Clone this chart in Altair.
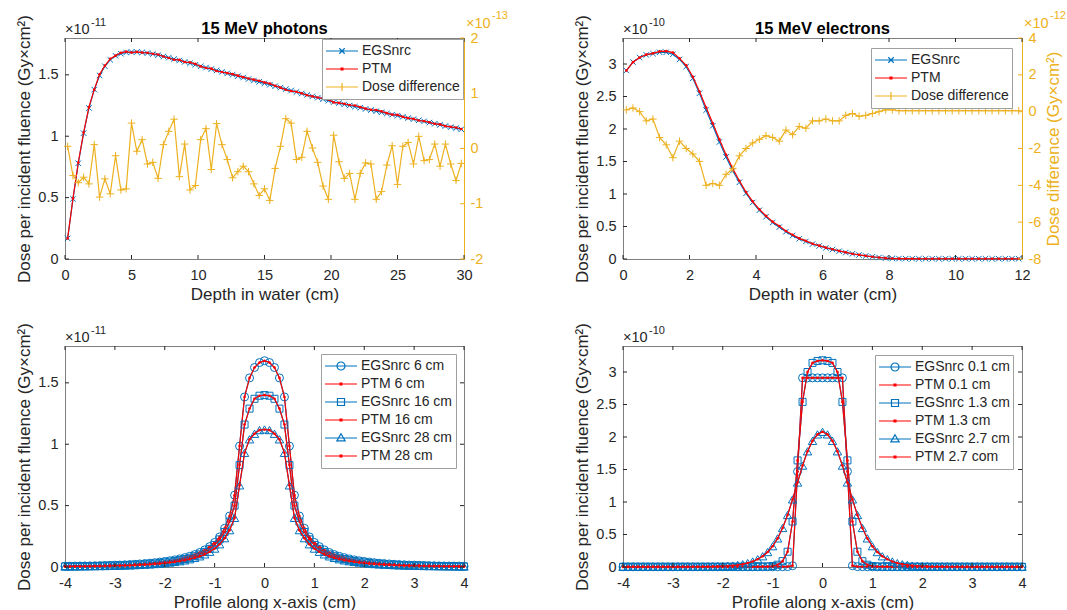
import altair as alt
import numpy as np
import pandas as pd

FONT = "Liberation Sans"
BLUE = "#0072BD"
RED = "#FF0000"
ORANGE = "#EDB120"
INK = "#262626"
BOX = "#7f7f7f"
LEGBOX = "#a0a0a0"

W = 399
H = 221

# ---------------- texts ----------------
panel_titles = ["15 MeV photons", "15 MeV electrons"]
x_titles = ["Depth in water (cm)", "Profile along x-axis (cm)"]
y_title = "Dose per incident fluence (Gy×cm²)"
y2_title = "Dose difference (Gy×cm²)"
depth_legend = ["EGSnrc", "PTM", "Dose difference"]
photon_profile_legend = ["EGSnrc 6 cm", "PTM 6 cm", "EGSnrc 16 cm", "PTM 16 cm", "EGSnrc 28 cm", "PTM 28 cm"]
electron_profile_legend = ["EGSnrc 0.1 cm", "PTM 0.1 cm", "EGSnrc 1.3 cm", "PTM 1.3 cm", "EGSnrc 2.7 cm", "PTM 2.7 com"]
exp_base = "×10"
exp_p1_left, exp_p1_right = "-11", "-13"
exp_p2_left, exp_p2_right = "-10", "-12"
exp_p3, exp_p4 = "-11", "-10"

# ---------------- tick values ----------------
photon_x_ticks = [0, 5, 10, 15, 20, 25, 30]
electron_x_ticks = [0, 2, 4, 6, 8, 10, 12]
profile_x_ticks = [-4, -3, -2, -1, 0, 1, 2, 3, 4]
photon_y_ticks = [0, 0.5, 1, 1.5]
electron_y_ticks = [0, 0.5, 1, 1.5, 2, 2.5, 3]
photon_y2_ticks = [-2, -1, 0, 1, 2]
electron_y2_ticks = [-8, -6, -4, -2, 0, 2, 4]

# ---------------- panel 1: 15 MeV photons depth dose (x1e-11), difference (x1e-13) ----------------
photon_depth = np.round(0.2 + 0.4 * np.arange(75), 1)
photon_egs = [0.168, 0.490, 0.780, 1.025, 1.230, 1.380, 1.495, 1.570, 1.622, 1.655,
              1.672, 1.682, 1.686, 1.686, 1.683, 1.677, 1.669, 1.660, 1.650, 1.640,
              1.628, 1.617, 1.605, 1.594, 1.582, 1.570, 1.559, 1.547, 1.536, 1.524,
              1.512, 1.501, 1.489, 1.478, 1.466, 1.454, 1.443, 1.431, 1.419, 1.407,
              1.396, 1.384, 1.372, 1.360, 1.348, 1.337, 1.325, 1.313, 1.301, 1.290,
              1.278, 1.269, 1.259, 1.250, 1.241, 1.232, 1.222, 1.213, 1.204, 1.195,
              1.185, 1.176, 1.167, 1.158, 1.148, 1.139, 1.130, 1.121, 1.111, 1.102,
              1.093, 1.083, 1.074, 1.065, 1.056]
photon_diff = [0.04, -0.49, -0.62, -0.52, -0.64, 0.07, -0.88, -0.55, -0.82, -0.13,
               -0.75, -0.73, 0.46, -0.05, 0.16, -0.28, -0.25, -0.54, 0.07, 0.31,
               0.53, -0.51, 0.08, -0.75, -0.67, 0.16, 0.36, -0.38, 0.45, 0.07,
               -0.20, -0.53, -0.42, -0.32, -0.42, -0.64, -0.85, -0.73, -0.94, -0.36,
               0.04, 0.54, 0.46, -0.20, -0.16, 0.31, 0.01, -0.25, -0.68, -0.92,
               0.24, -0.24, -0.54, -0.45, -0.92, -0.45, -0.26, -0.28, -0.92, -0.78,
               -0.30, 0.05, -0.65, 0.04, 0.11, -0.28, 0.22, -0.22, -0.20, 0.08,
               -0.32, 0.08, -0.28, -0.58, -0.27]

# ---------------- panel 2: 15 MeV electrons depth dose (x1e-10), difference (x1e-12) ----------------
electron_depth = np.round(0.1 + 0.2 * np.arange(60), 1)
electron_egs = [2.90, 3.03, 3.10, 3.14, 3.16, 3.18, 3.18, 3.15, 3.07, 2.96,
                2.78, 2.55, 2.29, 2.05, 1.80, 1.57, 1.36, 1.18, 1.01, 0.87,
                0.75, 0.65, 0.56, 0.49, 0.42, 0.36, 0.31, 0.27, 0.23, 0.20,
                0.17, 0.145, 0.12, 0.10, 0.08, 0.062, 0.047, 0.034, 0.023, 0.014,
                0.009, 0.006, 0.005, 0.005, 0.004, 0.004, 0.004, 0.004, 0.004, 0.004,
                0.004, 0.004, 0.004, 0.004, 0.004, 0.004, 0.004, 0.004, 0.004, 0.004]
electron_diff = [0.1, 0.2, 0.0, -0.5, -0.4, -1.4, -1.8, -2.5, -1.6, -2.0,
                 -2.3, -2.7, -4.0, -3.9, -4.0, -3.4, -3.1, -2.4, -2.0, -1.7,
                 -1.5, -1.3, -1.4, -1.6, -1.0, -1.25, -0.8, -0.9, -0.5, -0.5,
                 -0.4, -0.5, -0.5, -0.2, -0.1, -0.25, -0.2, -0.1, 0.0, 0.1,
                 0.1, 0.05, 0.05, 0.05, 0.05, 0.05, 0.05, 0.05, 0.05, 0.05,
                 0.05, 0.05, 0.05, 0.05, 0.05, 0.05, 0.05, 0.05, 0.05, 0.05]

# ---------------- panel 3: photon profiles (x1e-11) ----------------
profile_x = np.round(np.arange(-40, 41) / 10.0, 1)
photon_6cm = [0.0065, 0.007, 0.0075, 0.008, 0.0085, 0.009, 0.010, 0.011, 0.012, 0.013,
              0.015, 0.016, 0.018, 0.020, 0.022, 0.025, 0.028, 0.031, 0.035, 0.040,
              0.045, 0.051, 0.058, 0.066, 0.076, 0.087, 0.101, 0.118, 0.139, 0.166,
              0.200, 0.245, 0.315, 0.415, 0.585, 0.985, 1.385, 1.54, 1.625, 1.665,
              1.68,
              1.665, 1.625, 1.54, 1.385, 0.985, 0.585, 0.415, 0.315, 0.245, 0.200,
              0.166, 0.139, 0.118, 0.101, 0.087, 0.076, 0.066, 0.058, 0.051, 0.045,
              0.040, 0.035, 0.031, 0.028, 0.025, 0.022, 0.020, 0.018, 0.016, 0.015,
              0.013, 0.012, 0.011, 0.010, 0.009, 0.0085, 0.008, 0.0075, 0.007, 0.0065]
photon_16cm = [0.005, 0.0055, 0.006, 0.0065, 0.007, 0.0075, 0.008, 0.009, 0.010, 0.011,
               0.012, 0.013, 0.014, 0.016, 0.018, 0.020, 0.023, 0.026, 0.029, 0.033,
               0.038, 0.043, 0.049, 0.056, 0.065, 0.075, 0.088, 0.103, 0.123, 0.148,
               0.180, 0.225, 0.285, 0.37, 0.50, 0.83, 1.16, 1.29, 1.37, 1.395,
               1.40,
               1.395, 1.37, 1.29, 1.16, 0.83, 0.50, 0.37, 0.285, 0.225, 0.180,
               0.148, 0.123, 0.103, 0.088, 0.075, 0.065, 0.056, 0.049, 0.043, 0.038,
               0.033, 0.029, 0.026, 0.023, 0.020, 0.018, 0.016, 0.014, 0.013, 0.012,
               0.011, 0.010, 0.009, 0.008, 0.0075, 0.007, 0.0065, 0.006, 0.0055, 0.005]
photon_28cm = [0.004, 0.0045, 0.005, 0.0055, 0.006, 0.0065, 0.007, 0.0075, 0.008, 0.009,
               0.010, 0.011, 0.012, 0.013, 0.015, 0.017, 0.019, 0.021, 0.024, 0.027,
               0.031, 0.036, 0.041, 0.047, 0.054, 0.063, 0.074, 0.087, 0.103, 0.124,
               0.150, 0.185, 0.235, 0.30, 0.40, 0.665, 0.93, 1.04, 1.085, 1.115,
               1.12,
               1.115, 1.085, 1.04, 0.93, 0.665, 0.40, 0.30, 0.235, 0.185, 0.150,
               0.124, 0.103, 0.087, 0.074, 0.063, 0.054, 0.047, 0.041, 0.036, 0.031,
               0.027, 0.024, 0.021, 0.019, 0.017, 0.015, 0.013, 0.012, 0.011, 0.010,
               0.009, 0.008, 0.0075, 0.007, 0.0065, 0.006, 0.0055, 0.005, 0.0045, 0.004]

# ---------------- panel 4: electron profiles (x1e-10) ----------------
electron_01cm = [0.003, 0.003, 0.003, 0.003, 0.003, 0.003, 0.003, 0.003, 0.003, 0.003,
                 0.003, 0.003, 0.003, 0.003, 0.003, 0.003, 0.003, 0.003, 0.003, 0.003,
                 0.003, 0.003, 0.003, 0.003, 0.003, 0.003, 0.003, 0.003, 0.003, 0.003,
                 0.003, 0.004, 0.005, 0.006, 0.02, 1.47, 2.91, 2.91, 2.91, 2.91,
                 2.91,
                 2.91, 2.91, 2.91, 2.91, 1.47, 0.02, 0.006, 0.005, 0.004, 0.003,
                 0.003, 0.003, 0.003, 0.003, 0.003, 0.003, 0.003, 0.003, 0.003, 0.003,
                 0.003, 0.003, 0.003, 0.003, 0.003, 0.003, 0.003, 0.003, 0.003, 0.003,
                 0.003, 0.003, 0.003, 0.003, 0.003, 0.003, 0.003, 0.003, 0.003, 0.003]
electron_13cm = [0.003, 0.003, 0.003, 0.003, 0.003, 0.003, 0.003, 0.003, 0.003, 0.003,
                 0.003, 0.003, 0.003, 0.003, 0.003, 0.003, 0.003, 0.003, 0.003, 0.003,
                 0.003, 0.003, 0.003, 0.003, 0.003, 0.004, 0.004, 0.005, 0.006, 0.008,
                 0.015, 0.035, 0.09, 0.235, 0.70, 1.64, 2.54, 3.00, 3.14, 3.17,
                 3.18,
                 3.17, 3.14, 3.00, 2.54, 1.64, 0.70, 0.235, 0.09, 0.035, 0.015,
                 0.008, 0.006, 0.005, 0.004, 0.004, 0.003, 0.003, 0.003, 0.003, 0.003,
                 0.003, 0.003, 0.003, 0.003, 0.003, 0.003, 0.003, 0.003, 0.003, 0.003,
                 0.003, 0.003, 0.003, 0.003, 0.003, 0.003, 0.003, 0.003, 0.003, 0.003]
electron_27cm = [0.003, 0.003, 0.003, 0.003, 0.003, 0.003, 0.003, 0.003, 0.003, 0.003,
                 0.003, 0.003, 0.003, 0.003, 0.004, 0.004, 0.005, 0.006, 0.007, 0.009,
                 0.012, 0.016, 0.022, 0.031, 0.043, 0.06, 0.085, 0.12, 0.165, 0.23,
                 0.32, 0.44, 0.60, 0.80, 1.04, 1.30, 1.56, 1.78, 1.94, 2.04,
                 2.08,
                 2.04, 1.94, 1.78, 1.56, 1.30, 1.04, 0.80, 0.60, 0.44, 0.32,
                 0.23, 0.165, 0.12, 0.085, 0.06, 0.043, 0.031, 0.022, 0.016, 0.012,
                 0.009, 0.007, 0.006, 0.005, 0.004, 0.004, 0.003, 0.003, 0.003, 0.003,
                 0.003, 0.003, 0.003, 0.003, 0.003, 0.003, 0.003, 0.003, 0.003, 0.003]

# ---------------- marker shapes (unit paths) ----------------
MK_X = "M-1,-1L1,1M-1,1L1,-1"
MK_PLUS = "M-1,0L1,0M0,-1L0,1"
LEG_X = "M-1,0L1,0M-0.17,-0.17L0.17,0.17M-0.17,0.17L0.17,-0.17"
LEG_DOT = "M-1,0L1,0M-0.06,-0.06L0.06,-0.06L0.06,0.06L-0.06,0.06Z"
LEG_PLUS = "M-1,0L1,0M0,-0.25L0,0.25"
LEG_O = "M-1,0L1,0M0.25,0A0.25,0.25,0,1,1,-0.25,0A0.25,0.25,0,1,1,0.25,0"
LEG_S = "M-1,0L1,0M-0.22,-0.22L0.22,-0.22L0.22,0.22L-0.22,0.22Z"
LEG_T = "M-1,0L1,0M0,-0.27L0.26,0.18L-0.26,0.18Z"


def common_axis():
    return dict(labelFont=FONT, titleFont=FONT, labelFontSize=14.5, titleFontSize=17,
                titleFontWeight="normal", grid=False, ticks=False,
                labelExpr="'' + datum.value")


def x_axis(values, title):
    return alt.Axis(values=values, title=title, domain=False, labelFlush=False,
                    labelOverlap=False, labelPadding=9, titlePadding=5,
                    labelColor=INK, titleColor=INK, **common_axis())


def yl_axis(values):
    return alt.Axis(values=values, title=y_title, orient="left", domain=False,
                    labelPadding=7, titlePadding=4, labelColor=INK, titleColor=INK,
                    **common_axis())


def yr_axis(values, title):
    kw = dict(values=values, orient="right", domain=True, domainColor=ORANGE,
              labelPadding=6, titlePadding=5, labelColor=ORANGE, titleColor=ORANGE,
              titleAngle=270, titleBaseline="top", **common_axis())
    return alt.Axis(title=title, **kw)


def series_df(x, v):
    return pd.DataFrame({"x": list(x), "v": list(v)})


def line_layer(df, X, Y, color):
    return alt.Chart(df).mark_line(color=color, strokeWidth=1.2).encode(x=X, y=Y)


def point_layer(df, X, Y, color, shape, size, filled=False):
    return alt.Chart(df).mark_point(shape=shape, size=size, filled=filled, color=color,
                                    strokeWidth=1, opacity=1).encode(x=X, y=Y)


def tick_rules(values, X=None, Y=None, side="left", color=INK, h=H):
    df = pd.DataFrame({"t": values})
    base = alt.Chart(df).mark_rule(color=color, strokeWidth=1)
    if side == "left":
        return base.encode(y=Y, x=alt.value(0), x2=alt.value(4))
    if side == "right":
        return base.encode(y=Y, x=alt.value(W - 4), x2=alt.value(W))
    if side == "bottom":
        return base.encode(x=X, y=alt.value(h - 4), y2=alt.value(h))
    return base.encode(x=X, y=alt.value(0), y2=alt.value(4))


def text_layer(s, x, y, size, color, align="left", weight="normal"):
    return alt.Chart(pd.DataFrame({"s": [s]})).mark_text(
        align=align, baseline="alphabetic", font=FONT, fontSize=size, color=color,
        fontWeight=weight
    ).encode(text="s:N", x=alt.value(x), y=alt.value(y))


def exponent(exp, x0, color, y0=-4):
    return [text_layer(exp_base, x0, y0, 14.5, color),
            text_layer(exp, x0 + 26, y0 - 8.5, 11, color)]


def legend_layer(field, names, colors, paths, offset):
    leg = alt.Legend(orient="top-right", offset=offset, title=None, symbolSize=1024,
                     symbolStrokeWidth=1.2, symbolFillColor="transparent",
                     labelFont=FONT, labelFontSize=14, labelColor=INK, labelOffset=3,
                     padding=3, rowPadding=0, clipHeight=18, strokeColor=LEGBOX,
                     fillColor="white", cornerRadius=0, labelLimit=400)
    df = pd.DataFrame({field: names})
    return alt.Chart(df).mark_point(filled=False, opacity=1, strokeWidth=1.2).encode(
        color=alt.Color(f"{field}:N", scale=alt.Scale(domain=names, range=colors), legend=leg),
        shape=alt.Shape(f"{field}:N", scale=alt.Scale(domain=names, range=paths), legend=leg),
    ).transform_filter("false")


def depth_panel(field, depth, egs, diff, diff_scale, xdom, xticks, ydom, yticks,
                y2dom, y2ticks, y2title, title, exp_l, exp_r, leg_offset):
    xs = alt.Scale(domain=xdom, nice=False, zero=False)
    ysl = alt.Scale(domain=ydom, nice=False, zero=False)
    ysr = alt.Scale(domain=y2dom, nice=False, zero=False)
    xax = x_axis(xticks, x_titles[0])
    yla = yl_axis(yticks)
    yra = yr_axis(y2ticks, y2title)
    X = alt.X("x:Q", scale=xs, axis=xax)
    XT = alt.X("t:Q", scale=xs, axis=xax)
    YL = alt.Y("v:Q", scale=ysl, axis=yla)
    YLT = alt.Y("t:Q", scale=ysl, axis=yla)
    YR = alt.Y("v:Q", scale=ysr, axis=yra)
    YRT = alt.Y("t:Q", scale=ysr, axis=yra)

    ptm = [e - d * diff_scale for e, d in zip(egs, diff)]
    d_egs = series_df(depth, egs)
    d_ptm = series_df(depth, ptm)
    d_diff = series_df(depth, diff)

    left = alt.layer(
        line_layer(d_egs, X, YL, BLUE),
        point_layer(d_egs, X, YL, BLUE, MK_X, 30),
        line_layer(d_ptm, X, YL, RED),
        point_layer(d_ptm, X, YL, RED, "circle", 7, filled=True),
        tick_rules(yticks, Y=YLT, side="left"),
        tick_rules(xticks, X=XT, side="bottom"),
        tick_rules(xticks, X=XT, side="top"),
        *exponent(exp_l, 0, INK),
        text_layer(title, W / 2, -4.5, 16.5, "#000000", align="center", weight="bold"),
        legend_layer(field, depth_legend, [BLUE, RED, ORANGE], [LEG_X, LEG_DOT, LEG_PLUS], leg_offset),
    )
    right = alt.layer(
        line_layer(d_diff, X, YR, ORANGE),
        point_layer(d_diff, X, YR, ORANGE, MK_PLUS, 56),
        tick_rules(y2ticks, Y=YRT, side="right", color=ORANGE),
        *exponent(exp_r, W + 2, ORANGE, y0=-10.5),
    )
    return alt.layer(left, right).resolve_scale(y="independent").properties(width=W, height=H)


def profile_panel(field, names, curves, paths, shapes, sizes, ydom, yticks, exp_l, leg_offset):
    xs = alt.Scale(domain=[-4, 4], nice=False, zero=False)
    ys = alt.Scale(domain=ydom, nice=False, zero=False)
    xax = x_axis(profile_x_ticks, x_titles[1])
    ya = yl_axis(yticks)
    X = alt.X("x:Q", scale=xs, axis=xax)
    XT = alt.X("t:Q", scale=xs, axis=xax)
    Y = alt.Y("v:Q", scale=ys, axis=ya)
    YT = alt.Y("t:Q", scale=ys, axis=ya)
    layers = []
    for vals, shp, sz in zip(curves, shapes, sizes):
        d_e = series_df(profile_x, vals)
        d_p = series_df(profile_x, vals)
        layers += [
            line_layer(d_e, X, Y, BLUE),
            point_layer(d_e, X, Y, BLUE, shp, sz),
            line_layer(d_p, X, Y, RED),
            point_layer(d_p, X, Y, RED, "circle", 7, filled=True),
        ]
    layers += [
        tick_rules(yticks, Y=YT, side="left"),
        tick_rules(yticks, Y=YT, side="right"),
        tick_rules(profile_x_ticks, X=XT, side="bottom"),
        tick_rules(profile_x_ticks, X=XT, side="top"),
        *exponent(exp_l, 0, INK),
        legend_layer(field, names, [BLUE, RED] * 3, paths, leg_offset),
    ]
    return alt.layer(*layers).properties(width=W, height=H)


p1 = depth_panel("s1", photon_depth, photon_egs, photon_diff, 0.01, [0, 30], photon_x_ticks,
                 [0, 1.8], photon_y_ticks, [-2, 2], photon_y2_ticks, None, panel_titles[0],
                 exp_p1_left, exp_p1_right, 1)
p2 = depth_panel("s2", electron_depth, electron_egs, electron_diff, 0.01, [0, 12], electron_x_ticks,
                 [0, 3.4], electron_y_ticks, [-8, 4], electron_y2_ticks, y2_title, panel_titles[1],
                 exp_p2_left, exp_p2_right, 10)
p3 = profile_panel("s3", photon_profile_legend, [photon_6cm, photon_16cm, photon_28cm],
                   [LEG_O, LEG_DOT, LEG_S, LEG_DOT, LEG_T, LEG_DOT],
                   ["circle", "square", "triangle-up"], [64, 49, 70], [0, 1.8], photon_y_ticks,
                   exp_p3, 8)
p4 = profile_panel("s4", electron_profile_legend, [electron_01cm, electron_13cm, electron_27cm],
                   [LEG_O, LEG_DOT, LEG_S, LEG_DOT, LEG_T, LEG_DOT],
                   ["circle", "square", "triangle-up"], [64, 49, 70], [0, 3.4], electron_y_ticks,
                   exp_p4, 9)

chart = alt.concat(p1, p2, p3, p4, columns=2, spacing={"row": 87, "column": 159}, bounds="flush")
chart = chart.resolve_scale(x="independent", y="independent", color="independent",
                            shape="independent").resolve_legend(color="independent", shape="independent")
chart = chart.properties(padding={"left": 15, "top": 9, "right": 0, "bottom": 0},
                         background="white")
chart = chart.configure_view(stroke=BOX, strokeWidth=1)

chart.save("out.html", embed_options={"renderer": "svg", "actions": False})
